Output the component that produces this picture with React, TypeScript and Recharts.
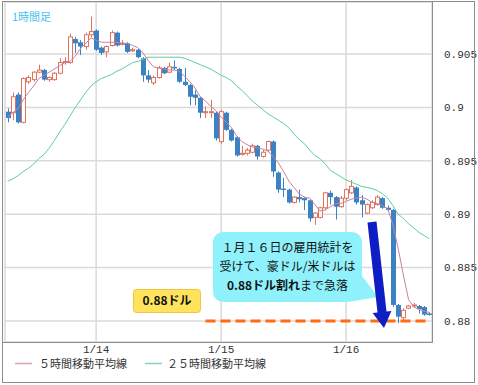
import {
  ComposedChart,
  Bar,
  Line,
  XAxis,
  YAxis,
  CartesianGrid,
  ReferenceLine,
} from "recharts";

// 1時間足 AUD/USD, 1/13 7:00 〜 1/16 16:00
const START_DAY = 13;
const START_HOUR = 7;

const open = [
  0.8996, 0.8995, 0.9012, 0.8986, 0.9024, 0.9026, 0.9033, 0.9035, 0.9026, 0.9026,
  0.9032, 0.9042, 0.9042, 0.9064, 0.9061, 0.9057, 0.9068, 0.9072, 0.9056, 0.9052,
  0.9058, 0.907, 0.9059, 0.906, 0.9053, 0.9054, 0.9046, 0.903, 0.9023, 0.9028,
  0.9037, 0.9033, 0.9038, 0.9036, 0.9024, 0.9021, 0.9012, 0.9009, 0.8995, 0.8995,
  0.8995, 0.8968, 0.8995, 0.8979, 0.8972, 0.8956, 0.8957, 0.8958, 0.8964, 0.8954,
  0.896, 0.8968, 0.8939, 0.8924, 0.8923, 0.8911, 0.8916, 0.8915, 0.8913, 0.8897,
  0.8897, 0.8906, 0.892, 0.8916, 0.8907, 0.8915, 0.892, 0.8925, 0.8913, 0.8901,
  0.8906, 0.8909, 0.8915, 0.8906, 0.8904, 0.8815, 0.8803, 0.8812, 0.8814, 0.8814,
  0.8813, 0.8807,
];
const close = [
  0.899, 0.901, 0.8986, 0.9027, 0.9028, 0.9033, 0.9035, 0.9026, 0.9028, 0.9032,
  0.9042, 0.9043, 0.9066, 0.906, 0.9057, 0.9068, 0.9071, 0.9054, 0.9051, 0.9057,
  0.907, 0.9058, 0.906, 0.9052, 0.9054, 0.9047, 0.903, 0.9026, 0.9028, 0.9037,
  0.9032, 0.9038, 0.9037, 0.9024, 0.9021, 0.901, 0.9009, 0.8995, 0.8996, 0.8996,
  0.8971, 0.8996, 0.8979, 0.8969, 0.8955, 0.8957, 0.896, 0.8964, 0.8954, 0.8958,
  0.8968, 0.894, 0.8923, 0.8923, 0.8911, 0.8916, 0.8914, 0.8913, 0.8896, 0.8901,
  0.8906, 0.892, 0.8916, 0.8907, 0.8915, 0.8923, 0.8926, 0.8911, 0.8909, 0.8909,
  0.8911, 0.8916, 0.8906, 0.8904, 0.8815, 0.8804, 0.881, 0.8814, 0.8815, 0.8811,
  0.8806, 0.8806,
];
const high = [
  0.8999, 0.9014, 0.9014, 0.9028, 0.903, 0.9034, 0.904, 0.9036, 0.9029, 0.9033,
  0.9046, 0.9047, 0.9069, 0.9066, 0.9063, 0.907, 0.9085, 0.9073, 0.9057, 0.9058,
  0.9072, 0.9071, 0.9063, 0.9061, 0.9056, 0.9055, 0.9047, 0.9035, 0.903, 0.9039,
  0.9038, 0.9042, 0.9044, 0.9037, 0.9037, 0.9022, 0.9016, 0.901, 0.9001, 0.9007,
  0.8996, 0.8998, 0.8996, 0.898, 0.8973, 0.8964, 0.8962, 0.8966, 0.8965, 0.896,
  0.8969, 0.8969, 0.894, 0.8934, 0.8924, 0.8917, 0.8923, 0.8916, 0.8914, 0.8902,
  0.8907, 0.8921, 0.8922, 0.8917, 0.8917, 0.8924, 0.8932, 0.8926, 0.8918, 0.891,
  0.8913, 0.8918, 0.8916, 0.8908, 0.8905, 0.8816, 0.8812, 0.8815, 0.8817, 0.8815,
  0.8814, 0.8808,
];
const low = [
  0.8986, 0.8988, 0.8985, 0.8985, 0.9022, 0.9024, 0.9032, 0.9025, 0.9024, 0.9025,
  0.9031, 0.904, 0.9041, 0.9051, 0.9049, 0.9054, 0.9066, 0.9053, 0.9049, 0.9047,
  0.9057, 0.9057, 0.9058, 0.9051, 0.9052, 0.9046, 0.9024, 0.9023, 0.9021, 0.9027,
  0.9031, 0.9032, 0.9035, 0.9023, 0.902, 0.9002, 0.9002, 0.899, 0.899, 0.899,
  0.8969, 0.8966, 0.8978, 0.8968, 0.8954, 0.8955, 0.8955, 0.8957, 0.8951, 0.8953,
  0.8958, 0.8935, 0.892, 0.8916, 0.891, 0.891, 0.8911, 0.8904, 0.8893, 0.889,
  0.8896, 0.8904, 0.8909, 0.8895, 0.8906, 0.8913, 0.8919, 0.8909, 0.8897, 0.89,
  0.8905, 0.8908, 0.8905, 0.8903, 0.8813, 0.8798, 0.8799, 0.8811, 0.8813, 0.8807,
  0.8805, 0.8805,
];
const ma5 = [
  0.8991, 0.8995, 0.8999, 0.9007, 0.9014, 0.902, 0.9027, 0.903, 0.9033, 0.9036,
  0.9039, 0.9042, 0.9043, 0.9048, 0.9055, 0.906, 0.9065, 0.9063, 0.9061, 0.9061,
  0.9061, 0.9061, 0.906, 0.906, 0.9058, 0.9056, 0.9051, 0.9044, 0.9038, 0.9037,
  0.9036, 0.9035, 0.9035, 0.9034, 0.9029, 0.9024, 0.9018, 0.901, 0.9006, 0.9001,
  0.8997, 0.8991, 0.8986, 0.8981, 0.8973, 0.8968, 0.8965, 0.8963, 0.8962, 0.8961,
  0.8959, 0.8954, 0.8948, 0.894, 0.8931, 0.8925, 0.8919, 0.8916, 0.8915, 0.8909,
  0.8903, 0.8904, 0.8907, 0.891, 0.891, 0.8912, 0.8914, 0.8915, 0.8916, 0.8914,
  0.8911, 0.891, 0.8908, 0.8905, 0.889, 0.8868, 0.8843, 0.882, 0.8813, 0.8811,
  0.8809, 0.8808,
];
const ma25 = [
  0.8931, 0.8933, 0.8936, 0.894, 0.8943, 0.8947, 0.8952, 0.8956, 0.8962, 0.8969,
  0.8977, 0.8984, 0.8992, 0.9, 0.9007, 0.9014, 0.902, 0.9024, 0.9027, 0.9029,
  0.9031, 0.9034, 0.9036, 0.9039, 0.9042, 0.9043, 0.9045, 0.9047, 0.9047, 0.9047,
  0.9047, 0.9047, 0.9047, 0.9047, 0.9046, 0.9044, 0.9042, 0.904, 0.9038, 0.9036,
  0.9033, 0.903, 0.9028, 0.9025, 0.902, 0.9016, 0.9011, 0.9006, 0.9002, 0.8998,
  0.8994, 0.8991, 0.8988, 0.8985, 0.8981, 0.8975, 0.897, 0.8966, 0.896, 0.8955,
  0.8952, 0.8947, 0.8941, 0.8938, 0.8935, 0.8932, 0.893, 0.8928, 0.8926, 0.8925,
  0.8924, 0.8922, 0.8919, 0.8915, 0.8908, 0.89, 0.8896, 0.8891, 0.8887, 0.8883,
  0.888, 0.8877,
];

const yTicks = [0.88, 0.885, 0.89, 0.895, 0.9, 0.905];
const dayTicks = ["1/14 0:00", "1/15 0:00", "1/16 0:00"];
const supportLevel = 0.88;

const times = open.map((_, i) => {
  const h = START_HOUR + i;
  return `1/${START_DAY + Math.floor(h / 24)} ${h % 24}:00`;
});

const data = times.map((t, i) => ({
  t,
  open: open[i],
  close: close[i],
  high: high[i],
  low: low[i],
  ma5: ma5[i],
  ma25: ma25[i],
}));

const UP = "#e2735c";
const DOWN = "#3b82c4";

const Candle = (props: any) => {
  const { x, y, width, height, payload } = props;
  if (!payload) return null;
  const top0 = Math.min(y, y + height);
  const h = Math.abs(height);
  const range = payload.high - payload.low || 1e-9;
  const py = (v: number) => top0 + ((payload.high - v) / range) * h;
  const up = payload.close >= payload.open;
  const color = up ? UP : DOWN;
  const cx = Math.round(x + width / 2) + 0.5;
  const bt = py(Math.max(payload.open, payload.close));
  const bb = py(Math.min(payload.open, payload.close));
  return (
    <g>
      <line x1={cx} x2={cx} y1={top0} y2={top0 + h} stroke={color} strokeWidth={1} />
      {up ? (
        <rect x={cx - 2} y={bt} width={4} height={Math.max(bb - bt, 1)} fill="#fff" stroke={color} strokeWidth={1} />
      ) : (
        <rect x={cx - 2.5} y={bt} width={5} height={Math.max(bb - bt, 1.5)} fill={color} />
      )}
    </g>
  );
};

const tickStyle = { fill: "#333", fontSize: 11, fontFamily: "Liberation Mono" };

export default function App() {
  return (
    <div
      style={{
        position: "absolute",
        left: 0,
        top: 0,
        width: 478,
        height: 385,
        background: "#fff",
        fontFamily: "Noto Sans CJK JP",
      }}
    >
      <ComposedChart
        width={478}
        height={385}
        data={data}
        margin={{ top: 2, right: 2, left: 5, bottom: 13 }}
      >
        <CartesianGrid stroke="#dadada" strokeWidth={1.5} />
        <XAxis
          dataKey="t"
          ticks={dayTicks}
          interval={0}
          tickFormatter={(v: string) => v.split(" ")[0]}
          tick={tickStyle}
          axisLine={false}
          tickLine={false}
          tickSize={3}
          tickMargin={0}
          height={30}
        />
        <YAxis
          orientation="right"
          domain={[0.87803, 0.90987]}
          ticks={yTicks}
          tickFormatter={(v: number) => String(Number(v.toFixed(3)))}
          tick={tickStyle}
          tickMargin={6}
          axisLine={false}
          tickLine={false}
          width={44}
          allowDataOverflow
        />
        <Bar
          dataKey={(d: any) => [d.low, d.high]}
          shape={Candle}
          barSize={5}
          isAnimationActive={false}
        />
        <Line type="linear" dataKey="ma25" stroke="#5ccf9c" strokeWidth={1} dot={false} isAnimationActive={false} />
        <Line type="linear" dataKey="ma5" stroke="#c9809f" strokeWidth={1} dot={false} isAnimationActive={false} />
        <ReferenceLine
          segment={[
            { x: times[38], y: supportLevel },
            { x: times[times.length - 1], y: supportLevel },
          ]}
          stroke="#ff6a13"
          strokeWidth={3}
          strokeDasharray="10 5"
        />
      </ComposedChart>

      <svg
        width={478}
        height={385}
        style={{ position: "absolute", left: 0, top: 0, pointerEvents: "none" }}
      >
        {/* frame */}
        <rect x={2.5} y={1.5} width={472} height={381} fill="none" stroke="#8c8c8c" />
        <line x1={432.5} x2={432.5} y1={1.5} y2={342.5} stroke="#8c8c8c" />
        <line x1={2.5} x2={432.5} y1={342.5} y2={342.5} stroke="#8c8c8c" />

        <text x={12} y={21} fontSize={11} fill="#45c2f0">1時間足</text>

        {/* callout */}
        <path
          d="M223,232 H352 A10,10 0 0 1 362,242 V276 L378,297 L348,302 H223 A10,10 0 0 1 213,292 V242 A10,10 0 0 1 223,232 Z"
          fill="#8ef1fc"
        />
        <text x={287.5} y={252} fontSize={12} fill="#111" textAnchor="middle">１月１６日の雇用統計を</text>
        <text x={287.5} y={271} fontSize={12} fill="#111" textAnchor="middle">受けて、豪ドル/米ドルは</text>
        <text x={287.5} y={290} fontSize={12} fill="#111" textAnchor="middle">
          <tspan fontWeight="bold">0.88ドル割れ</tspan>
          <tspan>まで急落</tspan>
        </text>

        {/* arrow */}
        <polygon
          points="367.5,222.5 376.5,221.5 386.5,311.5 391.4,311 384,328 372.6,313 377.5,312.5"
          fill="#0d1fc4"
        />

        {/* 0.88 label */}
        <rect x={133.5} y={289.5} width={67} height={23} rx={3} fill="#ffe35c" stroke="#f2c440" />
        <text x={167} y={305} fontSize={12} fontWeight="bold" fill="#111" textAnchor="middle">0.88ドル</text>

        {/* legend */}
        <line x1={15} x2={32} y1={363.5} y2={363.5} stroke="#dca3bb" strokeWidth={1.5} />
        <text x={39} y={368} fontSize={11} fill="#333">５時間移動平均線</text>
        <line x1={145} x2={162} y1={363.5} y2={363.5} stroke="#7fd9b0" strokeWidth={1.5} />
        <text x={167} y={368} fontSize={11} fill="#333">２５時間移動平均線</text>
      </svg>
    </div>
  );
}
